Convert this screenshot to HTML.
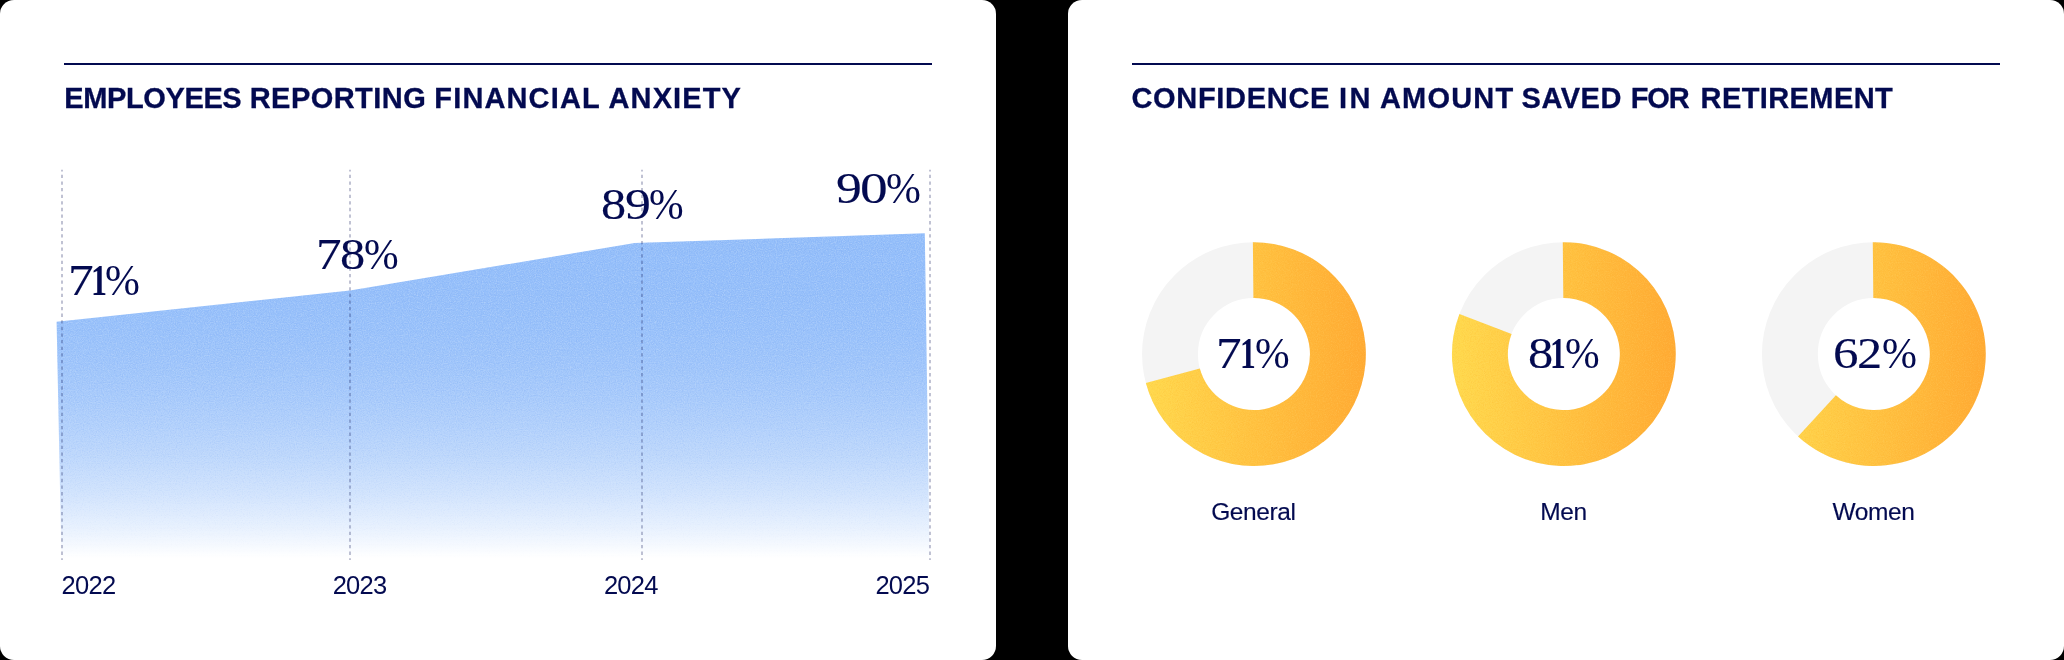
<!DOCTYPE html>
<html lang="en">
<head>
<meta charset="utf-8">
<title>Financial wellbeing charts</title>
<style>
  html, body { margin: 0; padding: 0; }
  body {
    width: 2064px; height: 660px; overflow: hidden;
    background: #000;
    font-family: "Liberation Sans", sans-serif;
    color: #030A50;
    position: relative;
  }
  .card {
    position: absolute; top: 0; height: 660px; width: 996px;
    background: #fff; border-radius: 14px; overflow: hidden;
    will-change: transform;
  }
  #c1 { left: 0; }
  #c2 { left: 1068px; }
  .rule {
    position: absolute; left: 64px; top: 63px; width: 868px; height: 2px;
    background: #030A50;
  }
  .title {
    position: absolute; left: 0; top: 80px; margin: 0; width: 996px; height: 36px;
    font-family: "Liberation Sans", sans-serif;
    font-weight: bold; font-size: 29px; line-height: 36px;
    white-space: nowrap;
    color: #030A50;
    -webkit-text-stroke: 0.3px #030A50;
  }
  .title span { position: absolute; top: 0; display: block; }
  svg.chart { position: absolute; left: 0; top: 0; }
  svg.over { position: absolute; left: 0; top: 0; pointer-events: none; }
  .pct {
    position: absolute; left: 0; margin: 0; width: 996px; height: 50px;
    font-family: "Liberation Serif", serif;
    font-size: 45px; line-height: 50px; white-space: nowrap;
    color: #030A50;
    -webkit-text-stroke: 0.12px #030A50;
  }
  .pct .b { font-weight: bold; -webkit-text-stroke: 0; }
  .pct .p { -webkit-text-stroke: 0; }
  .pct span { position: absolute; top: 0; display: block; transform-origin: 0 50%; }
  .yr {
    position: absolute; margin: 0; top: 570px;
    font-size: 25.5px; line-height: 30px; letter-spacing: -0.75px; white-space: nowrap;
    color: #030A50;
  }
  .lbl {
    position: absolute; margin: 0; top: 497px; width: 224px; text-align: center;
    font-size: 24.5px; line-height: 30px; letter-spacing: -0.4px; white-space: nowrap;
    color: #030A50; -webkit-text-stroke: 0.15px #030A50;
  }
</style>
</head>
<body>

<section class="card" id="c1">
  <div class="rule"></div>
  <h2 class="title"><span style="left:64.16px;letter-spacing:-0.366px">EMPLOYEES</span> <span style="left:249.66px;letter-spacing:0.467px">REPORTING</span> <span style="left:434.36px;letter-spacing:1.133px">FINANCIAL</span> <span style="left:608.58px;letter-spacing:1.1px">ANXIETY</span></h2>

  <svg class="chart" width="996" height="660" viewBox="0 0 996 660">
    <defs>
      <linearGradient id="ag" x1="0" y1="233" x2="0" y2="558" gradientUnits="userSpaceOnUse">
        <stop offset="0.0" stop-color="#95BFFA" stop-opacity="1.000"/>
        <stop offset="0.1" stop-color="#95BFFA" stop-opacity="0.997"/>
        <stop offset="0.2" stop-color="#95BFFA" stop-opacity="0.982"/>
        <stop offset="0.3" stop-color="#95BFFA" stop-opacity="0.951"/>
        <stop offset="0.4" stop-color="#95BFFA" stop-opacity="0.899"/>
        <stop offset="0.5" stop-color="#95BFFA" stop-opacity="0.823"/>
        <stop offset="0.6" stop-color="#95BFFA" stop-opacity="0.721"/>
        <stop offset="0.7" stop-color="#95BFFA" stop-opacity="0.590"/>
        <stop offset="0.8" stop-color="#95BFFA" stop-opacity="0.428"/>
        <stop offset="0.9" stop-color="#95BFFA" stop-opacity="0.232"/>
        <stop offset="1.0" stop-color="#95BFFA" stop-opacity="0.000"/>
      </linearGradient>
      <filter id="grainb" x="0" y="0" width="100%" height="100%" color-interpolation-filters="sRGB">
        <feTurbulence type="fractalNoise" baseFrequency="0.85" numOctaves="2" seed="5" result="t"/>
        <feColorMatrix in="t" type="matrix" values="0 0 0 0 1  0 0 0 0 1  0 0 0 0 1  0.55 0 0 0 -0.275" result="w"/>
        <feColorMatrix in="t" type="matrix" values="0 0 0 0 0.36  0 0 0 0 0.55  0 0 0 0 0.93  -0.55 0 0 0 0.275" result="d"/>
        <feComposite in="w" in2="SourceGraphic" operator="in" result="wi"/>
        <feComposite in="d" in2="SourceGraphic" operator="in" result="di"/>
        <feMerge><feMergeNode in="SourceGraphic"/><feMergeNode in="wi"/><feMergeNode in="di"/></feMerge>
      </filter>
    </defs>
    <polygon points="56.6,321.7 350,290.6 634.8,243 924.8,233.2 929.6,558 61.4,558" fill="url(#ag)" filter="url(#grainb)"/>
  </svg>

  <p class="pct" style="top:255.12px;"><span style="left:68.22px;transform:scaleX(1.141)">7</span><span class="b" style="left:90.73px;transform:scaleX(0.712)">1</span><span class="p" style="left:105.47px;transform:scaleX(0.930)">%</span></p>
  <p class="pct" style="top:228.72px;"><span style="left:316.43px;transform:scaleX(1.135)">7</span><span style="left:339.88px;transform:scaleX(1.122)">8</span><span class="p" style="left:363.58px;transform:scaleX(0.924)">%</span></p>
  <p class="pct" style="top:179.22px;"><span style="left:600.79px;transform:scaleX(1.117)">8</span><span style="left:624.73px;transform:scaleX(1.151)">9</span><span class="p" style="left:648.78px;transform:scaleX(0.924)">%</span></p>
  <p class="pct" style="top:162.72px;"><span style="left:836.34px;transform:scaleX(1.146)">9</span><span style="left:859.89px;transform:scaleX(1.232)">0</span><span class="p" style="left:885.57px;transform:scaleX(0.930)">%</span></p>

  <svg class="over" width="996" height="660" viewBox="0 0 996 660">
    <g stroke="#030A50" stroke-opacity="0.25" stroke-width="2" stroke-dasharray="3.3 3.31" stroke-dashoffset="1.5" fill="none">
      <line x1="62" y1="169.7" x2="62" y2="560"/>
      <line x1="350" y1="169.7" x2="350" y2="560"/>
      <line x1="642" y1="169.7" x2="642" y2="560"/>
      <line x1="930" y1="169.7" x2="930" y2="560"/>
    </g>
  </svg>

  <p class="yr" style="left:61.6px;">2022</p>
  <p class="yr" style="left:332.7px;">2023</p>
  <p class="yr" style="left:603.9px;">2024</p>
  <p class="yr" style="left:875.4px;">2025</p>
</section>

<section class="card" id="c2">
  <div class="rule"></div>
  <h2 class="title"><span style="left:63.41px;letter-spacing:0.699px">CONFIDENCE</span> <span style="left:270.96px;letter-spacing:2.394px">IN</span> <span style="left:311.98px;letter-spacing:1.194px">AMOUNT</span> <span style="left:453.56px;letter-spacing:0.522px">SAVED</span> <span style="left:562.86px;letter-spacing:-1.242px">FOR</span> <span style="left:632.56px;letter-spacing:0.406px">RETIREMENT</span></h2>

  <svg class="chart" width="996" height="660" viewBox="0 0 996 660">
    <defs>
      <linearGradient id="og1" x1="74.0" y1="0" x2="297.9" y2="0" gradientUnits="userSpaceOnUse">
        <stop offset="0" stop-color="#FFDA4E"/>
        <stop offset="1" stop-color="#FFAB34"/>
      </linearGradient>
      <linearGradient id="og2" x1="384.0" y1="0" x2="607.8" y2="0" gradientUnits="userSpaceOnUse">
        <stop offset="0" stop-color="#FFDA4E"/>
        <stop offset="1" stop-color="#FFAB34"/>
      </linearGradient>
      <linearGradient id="og3" x1="694.0" y1="0" x2="917.8" y2="0" gradientUnits="userSpaceOnUse">
        <stop offset="0" stop-color="#FFDA4E"/>
        <stop offset="1" stop-color="#FFAB34"/>
      </linearGradient>
      <filter id="graino" x="0" y="0" width="100%" height="100%" color-interpolation-filters="sRGB">
        <feTurbulence type="fractalNoise" baseFrequency="0.85" numOctaves="2" seed="9" result="t"/>
        <feColorMatrix in="t" type="matrix" values="0 0 0 0 1  0 0 0 0 0.9  0 0 0 0 0.55  0.45 0 0 0 -0.225" result="w"/>
        <feColorMatrix in="t" type="matrix" values="0 0 0 0 0.98  0 0 0 0 0.6  0 0 0 0 0.1  -0.45 0 0 0 0.225" result="d"/>
        <feComposite in="w" in2="SourceGraphic" operator="in" result="wi"/>
        <feComposite in="d" in2="SourceGraphic" operator="in" result="di"/>
        <feMerge><feMergeNode in="SourceGraphic"/><feMergeNode in="wi"/><feMergeNode in="di"/></feMerge>
      </filter>
    </defs>
    <g fill="none" stroke="#F4F4F4" stroke-width="55.9">
      <circle cx="185.95" cy="354.1" r="83.95"/>
      <circle cx="495.85" cy="354.1" r="83.95"/>
      <circle cx="805.85" cy="354.1" r="83.95"/>
    </g>
    <g filter="url(#graino)">
    <path fill="url(#og1)" d="M184.88,242.21 A111.9,111.9 0 1 1 77.84,382.97 L131.85,368.55 A56.0,56.0 0 1 0 185.41,298.10 Z"/>
    <path fill="url(#og2)" d="M494.78,242.21 A111.9,111.9 0 1 1 391.42,313.91 L443.59,333.99 A56.0,56.0 0 1 0 495.31,298.10 Z"/>
    <path fill="url(#og3)" d="M804.78,242.21 A111.9,111.9 0 1 1 730.04,436.40 L767.91,395.29 A56.0,56.0 0 1 0 805.31,298.10 Z"/>
    </g>
  </svg>

  <p class="pct" style="top:328.32px;"><span style="left:148.13px;transform:scaleX(1.135)">7</span><span class="b" style="left:172.38px;transform:scaleX(0.700)">1</span><span class="p" style="left:187.28px;transform:scaleX(0.924)">%</span></p>
  <p class="pct" style="top:328.32px;"><span style="left:459.98px;transform:scaleX(1.122)">8</span><span class="b" style="left:482.38px;transform:scaleX(0.700)">1</span><span class="p" style="left:497.28px;transform:scaleX(0.924)">%</span></p>
  <p class="pct" style="top:328.32px;"><span style="left:765.21px;transform:scaleX(1.134)">6</span><span style="left:789.09px;transform:scaleX(1.120)">2</span><span class="p" style="left:813.67px;transform:scaleX(0.933)">%</span></p>

  <p class="lbl" style="left:73.4px;">General</p>
  <p class="lbl" style="left:383.5px;">Men</p>
  <p class="lbl" style="left:693.4px;">Women</p>
</section>

</body>
</html>
